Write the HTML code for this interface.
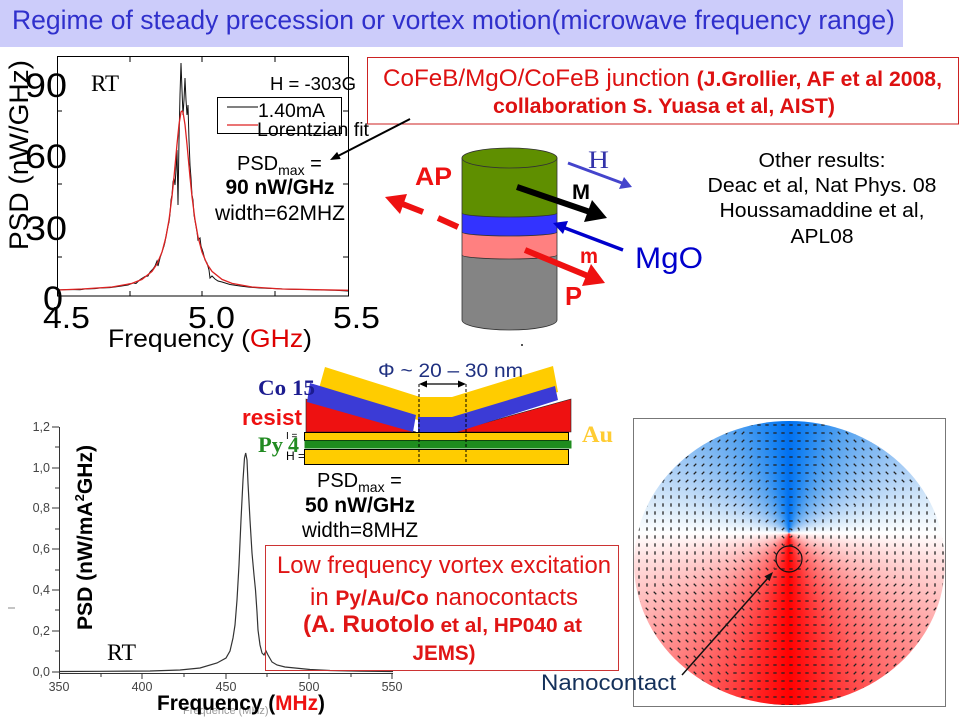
<!DOCTYPE html>
<html><head><meta charset="utf-8"><style>
html,body{margin:0;padding:0;background:#fff;}
#wrap{position:relative;width:960px;height:720px;overflow:hidden;background:#fff;}
#vortex{position:absolute;left:634px;top:421px;width:311px;height:284px;border-radius:50%;
background:conic-gradient(from 0deg at 155px 112px,#0070f0 0deg,#1a84f2 10deg,#5aa5f0 30deg,#a8cdf5 60deg,#e0eefa 80deg,#ffffff 90deg,#ffe0e0 100deg,#ffb0b0 120deg,#ff6060 150deg,#ff2020 170deg,#ff0000 180deg,#ff2020 190deg,#ff6060 210deg,#ffb0b0 240deg,#ffe0e0 260deg,#ffffff 270deg,#e0eefa 280deg,#a8cdf5 300deg,#5aa5f0 330deg,#1a84f2 350deg,#0070f0 360deg);}
svg{position:absolute;left:0;top:0;}
</style></head><body><div id="wrap">
<div id="vortex"></div>
<svg width="960" height="720" viewBox="0 0 960 720" font-family="Liberation Sans, Arial, sans-serif">
<defs>
<pattern id="ph" patternUnits="userSpaceOnUse" x="635" y="421" width="8" height="8"><path d="M2.3 4h3.4" stroke="#222" stroke-width="1.3"/></pattern>
<pattern id="pv" patternUnits="userSpaceOnUse" x="635" y="421" width="8" height="8"><path d="M4 2.3v3.4" stroke="#222" stroke-width="1.3"/></pattern>
<pattern id="ps" patternUnits="userSpaceOnUse" x="635" y="421" width="8" height="8"><path d="M2.7 5.3L5.3 2.7" stroke="#222" stroke-width="1.3"/></pattern>
<pattern id="pb" patternUnits="userSpaceOnUse" x="635" y="421" width="8" height="8"><path d="M2.7 2.7L5.3 5.3" stroke="#222" stroke-width="1.3"/></pattern>
<clipPath id="disc"><ellipse cx="789.5" cy="563" rx="155" ry="142"/></clipPath>
<clipPath id="cV"><polygon points="789,533 1159,380 1159,686"/><polygon points="789,533 419,686 419,380"/></clipPath>
<clipPath id="cH"><polygon points="789,533 942,903 636,903"/><polygon points="789,533 636,163 942,163"/></clipPath>
<clipPath id="cS"><polygon points="789,533 1159,686 942,903"/><polygon points="789,533 419,380 636,163"/></clipPath>
<clipPath id="cB"><polygon points="789,533 636,903 419,686"/><polygon points="789,533 942,163 1159,380"/></clipPath>
</defs>

<!-- Title -->
<rect x="0" y="0" width="903" height="47" fill="#ccccfa"/>
<text x="12" y="29" font-size="26.5" fill="#3030cc" textLength="883" lengthAdjust="spacingAndGlyphs">Regime of steady precession or vortex motion(microwave frequency range)</text>

<!-- Top chart -->
<rect x="57.5" y="56.5" width="291" height="239.5" fill="none" stroke="#000" stroke-width="1"/>
<g stroke="#000" stroke-width="1">
<path d="M57 111h5M57 184h5M57 257h5M348 111h-5M348 184h-5M348 257h-5M130 296v-5M202 296v-5M275 296v-5M130 57v5M202 57v5M275 57v5"/>
</g>
<path d="M57,290 L70,289.5 L80,289.8 L85,289 L95,288.6 L100,288 L110,287.6 L120,286.2 L128,285 L133,283 L136,283.5 L140,279.6 L145,276.5 L148,276 L150,272 L153,269 L155,266 L157,261 L158,266 L160,258 L162,252 L164,246 L165,242 L166,236 L167,231 L168,226 L169,222 L170,214 L171,200 L172,195 L173,182 L174,178 L175,185 L176,170 L177,150 L178,205 L179,140 L180,95 L181,63 L182,90 L183,115 L184,100 L185,78 L186,100 L187,115 L188,105 L189,140 L190,165 L191,178 L192,195 L193,200 L194,215 L196,226 L197,232 L198,240 L200,238 L201,246 L203,252 L205,260 L207,263 L209,270 L210,278 L212,276 L215,279 L218,281 L222,282 L230,284.5 L240,286 L250,287.2 L260,288 L275,288.6 L290,289.2 L305,289.5 L320,290 L335,290.3 L348,291" fill="none" stroke="#111" stroke-width="1"/>
<path d="M57,290 L82,289 L112,287 L132,283.4 L142,279.4 L152,271.4 L157,264 L162,252.1 L166,236.8 L169,219.9 L172,196.6 L174,177.1 L177,144.3 L179,124.6 L181,112 L182,111 L183,112 L185,124.6 L187,144.3 L190,177.1 L192,196.6 L195,219.9 L198,236.8 L202,252.1 L207,264 L212,271.4 L222,279.4 L232,283.4 L252,287 L282,289 L348,290.3" fill="none" stroke="#dd2222" stroke-width="1.3"/>
<text x="25" y="97" font-size="34" textLength="42" lengthAdjust="spacingAndGlyphs">90</text>
<text x="25" y="168" font-size="34" textLength="42" lengthAdjust="spacingAndGlyphs">60</text>
<text x="25" y="240" font-size="34" textLength="42" lengthAdjust="spacingAndGlyphs">30</text>
<text x="43" y="310" font-size="34" textLength="20" lengthAdjust="spacingAndGlyphs">0</text>
<text x="43" y="328" font-size="31" textLength="47" lengthAdjust="spacingAndGlyphs">4.5</text>
<text x="188" y="328" font-size="31" textLength="47" lengthAdjust="spacingAndGlyphs">5.0</text>
<text x="333" y="328" font-size="31" textLength="47" lengthAdjust="spacingAndGlyphs">5.5</text>
<text x="108" y="347" font-size="25" textLength="204" lengthAdjust="spacingAndGlyphs">Frequency (<tspan fill="#dd0000">GHz</tspan>)</text>
<text transform="translate(28,250) rotate(-90)" font-size="27" textLength="190" lengthAdjust="spacingAndGlyphs">PSD (nW/GHz)</text>
<text x="91" y="91" font-family="Liberation Serif, serif" font-size="23" textLength="28" lengthAdjust="spacingAndGlyphs">RT</text>
<text x="270" y="90" font-size="18" textLength="86" lengthAdjust="spacingAndGlyphs">H = -303G</text>
<rect x="217.5" y="97.5" width="124" height="36" fill="none" stroke="#000" stroke-width="1"/>
<line x1="227" y1="107" x2="258" y2="107" stroke="#000" stroke-width="1"/>
<line x1="227" y1="125" x2="258" y2="125" stroke="#dd2222" stroke-width="1.3"/>
<text x="258" y="117" font-size="19.5" textLength="67" lengthAdjust="spacingAndGlyphs">1.40mA</text>
<text x="257" y="136" font-size="19.5" textLength="112" lengthAdjust="spacingAndGlyphs">Lorentzian fit</text>
<text x="237" y="170" font-size="20">PSD<tspan font-size="14" dy="5">max</tspan><tspan dy="-5"> =</tspan></text>
<text x="280" y="194" font-size="21" font-weight="bold" text-anchor="middle" textLength="109" lengthAdjust="spacingAndGlyphs">90 nW/GHz</text>
<text x="280" y="220" font-size="21" text-anchor="middle" textLength="130" lengthAdjust="spacingAndGlyphs">width=62MHZ</text>

<!-- CoFeB box -->
<rect x="367.5" y="57.5" width="591" height="66.5" fill="none" stroke="#cc2222" stroke-width="1"/>
<text x="383" y="86" fill="#dd1111" textLength="559" lengthAdjust="spacingAndGlyphs"><tspan font-size="24">CoFeB/MgO/CoFeB junction </tspan><tspan font-size="21" font-weight="bold">(J.Grollier, AF et al 2008,</tspan></text>
<text x="493" y="113" fill="#dd1111" font-size="21" font-weight="bold" textLength="342" lengthAdjust="spacingAndGlyphs">collaboration S. Yuasa et al, AIST)</text>
<line x1="410" y1="119" x2="338" y2="156" stroke="#000" stroke-width="2"/>
<polygon points="330,160 340.7,159 337.1,151.9" fill="#000"/>

<!-- Cylinder -->
<g stroke="#333" stroke-width="0.8">
<path d="M462,255 V320 A47.5,10 0 0 0 557,320 V255 Z" fill="#848484"/>
<path d="M462,232 V255 A47.5,4 0 0 0 557,255 V232 Z" fill="#ff8080"/>
<path d="M462,213 V232 A47.5,4 0 0 0 557,232 V213 Z" fill="#3333ff"/>
<path d="M462,158 V213 A47.5,4 0 0 0 557,213 V158 Z" fill="#5f8f00"/>
<ellipse cx="509.5" cy="158" rx="47.5" ry="10" fill="#5f8f00"/>
</g>
<rect x="521" y="344" width="2" height="2" fill="#555"/>
<!-- arrows -->
<line x1="568" y1="163" x2="622" y2="183" stroke="#4444cc" stroke-width="3"/>
<polygon points="632,187 619,189 624,177" fill="#4444cc"/>
<line x1="517" y1="187" x2="590" y2="212" stroke="#000" stroke-width="6"/>
<polygon points="607,218 584,222 592,200" fill="#000"/>
<line x1="623" y1="250" x2="565" y2="228" stroke="#0000cc" stroke-width="3.5"/>
<polygon points="553,223 568,221 563,234" fill="#0000cc"/>
<line x1="525" y1="250" x2="588" y2="276" stroke="#ee1111" stroke-width="6"/>
<polygon points="605,283 582,286 591,264" fill="#ee1111"/>
<line x1="458" y1="227" x2="438" y2="218" stroke="#ee1111" stroke-width="6"/>
<line x1="423" y1="212" x2="400" y2="203" stroke="#ee1111" stroke-width="6"/>
<polygon points="385,197 407,194 400,214" fill="#ee1111"/>
<text x="588" y="168" font-family="Liberation Serif, serif" font-size="25" fill="#3333aa" textLength="21" lengthAdjust="spacingAndGlyphs">H</text>
<text x="572" y="199" font-size="21" font-weight="bold" textLength="18" lengthAdjust="spacingAndGlyphs">M</text>
<text x="635" y="268" font-size="30" fill="#0000cc" textLength="68" lengthAdjust="spacingAndGlyphs">MgO</text>
<text x="580" y="263" font-size="21" font-weight="bold" fill="#ee1111" textLength="18" lengthAdjust="spacingAndGlyphs">m</text>
<text x="565" y="305" font-size="26" font-weight="bold" fill="#ee1111" textLength="17" lengthAdjust="spacingAndGlyphs">P</text>
<text x="415" y="185" font-size="25" font-weight="bold" fill="#ee1111" textLength="37" lengthAdjust="spacingAndGlyphs">AP</text>

<!-- Other results -->
<g font-size="20" text-anchor="middle" fill="#000">
<text x="822" y="167" textLength="127" lengthAdjust="spacingAndGlyphs">Other results:</text>
<text x="822" y="192" textLength="229" lengthAdjust="spacingAndGlyphs">Deac et al, Nat Phys. 08</text>
<text x="822" y="217" textLength="205" lengthAdjust="spacingAndGlyphs">Houssamaddine et al,</text>
<text x="822" y="243" textLength="63" lengthAdjust="spacingAndGlyphs">APL08</text>
</g>

<!-- Bottom chart -->
<g stroke="#333" stroke-width="1" fill="none">
<path d="M59.5 427V673.5H393"/>
<path d="M52 427h7M52 468h7M52 508h7M52 549h7M52 590h7M52 631h7M52 672h7"/>
<path d="M55 447h4M55 488h4M55 529h4M55 570h4M55 610h4M55 651h4"/>
<path d="M59.5 673v6M142 673v6M226 673v6M309 673v6M392 673v6"/>
<path d="M101 673v4M184 673v4M267 673v4M351 673v4"/>
</g>
<g font-size="12.5" fill="#444" text-anchor="end">
<text x="50" y="431">1,2</text><text x="50" y="472">1,0</text><text x="50" y="512">0,8</text><text x="50" y="553">0,6</text><text x="50" y="594">0,4</text><text x="50" y="635">0,2</text><text x="50" y="676">0,0</text>
</g>
<g font-size="12.5" fill="#444" text-anchor="middle">
<text x="59" y="691">350</text><text x="142" y="691">400</text><text x="226" y="691">450</text><text x="309" y="691">500</text><text x="392" y="691">550</text>
</g>
<path d="M59,671.5 L100,671.3 L150,671 L180,670 L200,668 L217,663 L226,658 L230,651 L233,638 L235,625 L237,600 L239,565 L241,520 L243,480 L244.5,458 L245.7,453 L247,460 L248,483 L250,520 L252,553 L254,575 L255.5,590 L257,612 L258,630 L260,645 L262,653 L264,655 L266,651 L268,655 L272,662 L277,665 L285,667 L295,668 L310,669.5 L330,670.5 L360,671.2 L393,671.5" fill="none" stroke="#333" stroke-width="1.2"/>
<text transform="translate(92,630) rotate(-90)" font-size="21" font-weight="bold" textLength="185" lengthAdjust="spacingAndGlyphs">PSD (nW/mA<tspan font-size="13" dy="-8">2</tspan><tspan dy="8">GHz)</tspan></text>
<text x="183" y="714" font-size="11" fill="#999">Frequence (MHz)</text>
<text x="157" y="710" font-size="21" font-weight="bold" textLength="168" lengthAdjust="spacingAndGlyphs">Frequency (<tspan fill="#ee1111">MHz</tspan>)</text>
<text x="107" y="660" font-family="Liberation Serif, serif" font-size="23" textLength="29" lengthAdjust="spacingAndGlyphs">RT</text>
<line x1="8" y1="608" x2="15" y2="608" stroke="#888" stroke-width="1"/>

<!-- Schematic -->
<polygon points="306,399 306,432 416,432" fill="#ee1111" stroke="#222" stroke-width="0.6"/>
<polygon points="452,432 571,399 571,432" fill="#ee1111" stroke="#222" stroke-width="0.6"/>
<polygon points="325,367 420,397 452,397 553,366 558,392 452,420 418,420 318,392" fill="#ffcc00"/>
<polygon points="310,383 416,415 413,432 307,402" fill="#3b3bd6"/>
<polygon points="418,417 452,417 555,386 558,400 457,432 418,432" fill="#3b3bd6"/>
<rect x="304.5" y="432.5" width="264" height="8" fill="#ffcc00" stroke="#000" stroke-width="1"/>
<rect x="304.5" y="440.5" width="267" height="8" fill="#1e8c1e"/>
<rect x="304.5" y="449.5" width="264" height="15" fill="#ffcc00" stroke="#000" stroke-width="1"/>
<g stroke="#000" stroke-width="1" stroke-dasharray="3,2"><path d="M419 384V464M466 384V464"/></g>
<line x1="425" y1="384" x2="460" y2="384" stroke="#000" stroke-width="1.2"/>
<polygon points="419,384 427,380.5 427,387.5" fill="#000"/>
<polygon points="466,384 458,380.5 458,387.5" fill="#000"/>
<text x="378" y="377" font-size="19" fill="#1f3080" textLength="145" lengthAdjust="spacingAndGlyphs">Φ ~ 20 – 30 nm</text>
<text x="258" y="395" font-family="Liberation Serif, serif" font-weight="bold" font-size="22" fill="#1c1c90" textLength="57" lengthAdjust="spacingAndGlyphs">Co 15</text>
<text x="242" y="425" font-weight="bold" font-size="22" fill="#ee1111" textLength="60" lengthAdjust="spacingAndGlyphs">resist</text>
<text x="286" y="439" font-size="10" fill="#000">I =</text>
<text x="286" y="460" font-size="12" fill="#000">H =</text>
<text x="258" y="452" font-family="Liberation Serif, serif" font-weight="bold" font-size="22" fill="#228b22" textLength="25" lengthAdjust="spacingAndGlyphs">Py</text>
<text x="288" y="452" font-family="Liberation Serif, serif" font-weight="bold" font-size="22" fill="#228b22">4</text>
<text x="582" y="442" font-family="Liberation Serif, serif" font-weight="bold" font-size="23" fill="#ffcc33" textLength="31" lengthAdjust="spacingAndGlyphs">Au</text>
<text x="317" y="487" font-size="20">PSD<tspan font-size="14" dy="5">max</tspan><tspan dy="-5"> =</tspan></text>
<text x="360" y="512" font-size="21" font-weight="bold" text-anchor="middle" textLength="110" lengthAdjust="spacingAndGlyphs">50 nW/GHz</text>
<text x="360" y="537" font-size="21" text-anchor="middle" textLength="116" lengthAdjust="spacingAndGlyphs">width=8MHZ</text>

<!-- Low frequency box -->
<rect x="265.5" y="545.5" width="353" height="125" fill="none" stroke="#cc3333" stroke-width="1"/>
<g fill="#e01515">
<text x="277" y="573" font-size="24" textLength="334" lengthAdjust="spacingAndGlyphs">Low frequency vortex excitation</text>
<text x="310" y="605" textLength="268" lengthAdjust="spacingAndGlyphs"><tspan font-size="24">in </tspan><tspan font-size="21" font-weight="bold">Py/Au/Co</tspan><tspan font-size="24"> nanocontacts</tspan></text>
<text x="303" y="632" font-weight="bold" textLength="279" lengthAdjust="spacingAndGlyphs"><tspan font-size="24">(A. Ruotolo</tspan><tspan font-size="20.5"> et al, HP040 at</tspan></text>
<text x="444" y="660" font-size="21" font-weight="bold" text-anchor="middle" textLength="63" lengthAdjust="spacingAndGlyphs">JEMS)</text>
</g>

<!-- Vortex overlay -->
<rect x="633.5" y="418.5" width="312" height="288" fill="none" stroke="#777" stroke-width="1"/>
<g clip-path="url(#disc)">
<rect x="630" y="415" width="320" height="295" fill="url(#pv)" clip-path="url(#cV)"/>
<rect x="630" y="415" width="320" height="295" fill="url(#ph)" clip-path="url(#cH)"/>
<rect x="630" y="415" width="320" height="295" fill="url(#ps)" clip-path="url(#cS)"/>
<rect x="630" y="415" width="320" height="295" fill="url(#pb)" clip-path="url(#cB)"/>
</g>
<circle cx="789" cy="559" r="13" fill="none" stroke="#111" stroke-width="1.2"/>
<line x1="682" y1="675" x2="768" y2="578" stroke="#111" stroke-width="1.5"/>
<polygon points="773,572 769.6,581.1 764.4,576.4" fill="#111"/>
<text x="541" y="690" font-size="22" fill="#14305a" textLength="135" lengthAdjust="spacingAndGlyphs">Nanocontact</text>
</svg>
</div></body></html>
